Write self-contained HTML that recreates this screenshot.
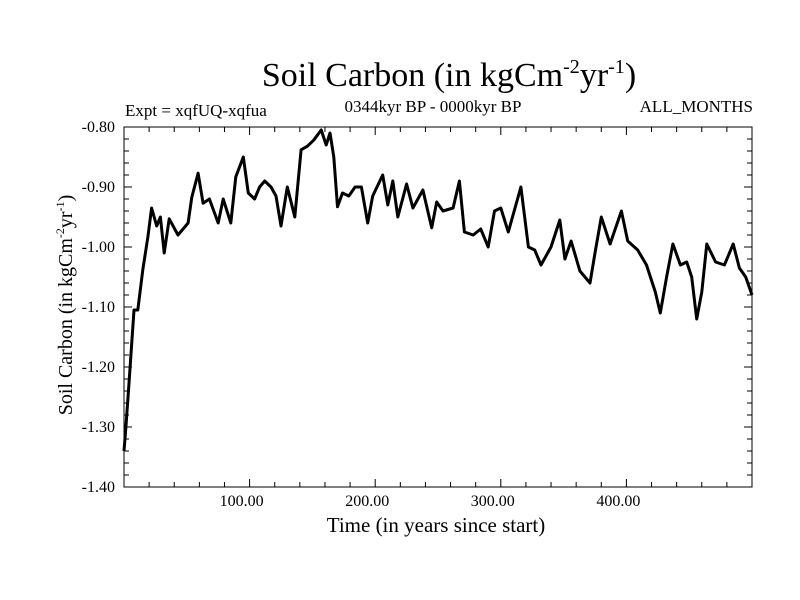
<!DOCTYPE html>
<html><head><meta charset="utf-8"><style>
body{margin:0;background:#fff}
svg{display:block;font-family:"Liberation Serif",serif}
</style></head><body>
<svg id="chart" width="800" height="600">
<text x="449" y="86" font-size="34" text-anchor="middle">Soil Carbon (in kgCm<tspan dy="-13" font-size="20">-2</tspan><tspan dy="13">yr</tspan><tspan dy="-13" font-size="20">-1</tspan><tspan dy="13">)</tspan></text>
<text x="125" y="116" font-size="17">Expt = xqfUQ-xqfua</text>
<text x="433" y="112" font-size="17" text-anchor="middle">0344kyr BP - 0000kyr BP</text>
<text x="753" y="112" font-size="17" text-anchor="end">ALL_MONTHS</text>
<text x="436" y="532" font-size="21" text-anchor="middle">Time (in years since start)</text>
<text transform="translate(72,305) rotate(-90)" font-size="20" text-anchor="middle">Soil Carbon (in kgCm<tspan dy="-8" font-size="12">-2</tspan><tspan dy="8">yr</tspan><tspan dy="-8" font-size="12">-1</tspan><tspan dy="8">)</tspan></text>
<g id="ticks"></g>
<path id="series" fill="none" stroke="#000" stroke-width="3" stroke-linejoin="round"/>
<rect x="124" y="127" width="628" height="360" fill="none" stroke="#000" stroke-width="1"/>
</svg>
<script>
const years=[0,1.5,4,8,11,15,19,22,26,29,32,36,43,51,54,59,63,68,75,79,85,89,95,99,104,108,112,117,121,125,130,136,141,146,151,157,161,164,167,170,174,179,184,189,194,198,206,210,214,218,225,230,238,245,249,254,262,267,271,278,284,290,295,300,306,316,322,327,332,340,347,351,356,363,371,375,380,387,396,401,409,416,423,427,432,437,443,448,452,456,460,464,471,478,485,490,495,500];
const carbon=[-1.34,-1.30,-1.227,-1.105,-1.105,-1.038,-0.983,-0.935,-0.965,-0.95,-1.01,-0.953,-0.98,-0.96,-0.917,-0.877,-0.927,-0.92,-0.96,-0.92,-0.96,-0.883,-0.85,-0.91,-0.92,-0.90,-0.89,-0.90,-0.915,-0.965,-0.90,-0.95,-0.838,-0.832,-0.822,-0.805,-0.83,-0.81,-0.85,-0.933,-0.91,-0.915,-0.90,-0.90,-0.96,-0.915,-0.88,-0.93,-0.89,-0.95,-0.895,-0.935,-0.905,-0.968,-0.925,-0.94,-0.935,-0.89,-0.975,-0.98,-0.97,-1.00,-0.94,-0.935,-0.975,-0.90,-1.00,-1.005,-1.03,-1.00,-0.955,-1.02,-0.99,-1.04,-1.06,-1.01,-0.95,-0.995,-0.94,-0.99,-1.005,-1.03,-1.075,-1.11,-1.05,-0.995,-1.03,-1.025,-1.05,-1.12,-1.075,-0.995,-1.025,-1.03,-0.995,-1.035,-1.05,-1.08];
const xTickVals=[100,200,300,400];
const xTickLabels=["100.00","200.00","300.00","400.00"];
const yTickVals=[-0.8,-0.9,-1.0,-1.1,-1.2,-1.3,-1.4];
const yTickLabels=["-0.80","-0.90","-1.00","-1.10","-1.20","-1.30","-1.40"];
const X0=124,X1=752,Y0=127,Y1=487,XMIN=0,XMAX=500,YMAX=-0.8,YMIN=-1.4;
const xs=v=>X0+(v-XMIN)/(XMAX-XMIN)*(X1-X0);
const ys=v=>Y0+(YMAX-v)/(YMAX-YMIN)*(Y1-Y0);
const NS="http://www.w3.org/2000/svg";
const g=document.getElementById('ticks');
function line(x1,y1,x2,y2,name){const l=document.createElementNS(NS,'line');l.setAttribute('x1',x1);l.setAttribute('y1',y1);l.setAttribute('x2',x2);l.setAttribute('y2',y2);l.setAttribute('stroke','#000');l.setAttribute('stroke-width','1');


g.appendChild(l);}
for(let v=20;v<XMAX;v+=20){const x=xs(v);const maj=v%100===0;const len=maj?8:5;line(x,Y1,x,Y1-len,'x-tick');line(x,Y0,x,Y0+len,'x-tick-top');}
for(let i=1;i<30;i++){const v=YMAX-i*0.02;const y=ys(v);const maj=i%5===0;const len=maj?8:5;line(X0,y,X0+len,y,'y-tick');line(X1,y,X1-len,y,'y-tick-right');}
xTickVals.forEach((v,i)=>{const t=document.createElementNS(NS,'text');t.setAttribute('x',xs(v)-8);t.setAttribute('y',506);t.setAttribute('font-size','16');t.setAttribute('text-anchor','middle');t.textContent=xTickLabels[i];


g.appendChild(t);});
yTickVals.forEach((v,i)=>{const t=document.createElementNS(NS,'text');t.setAttribute('x',115);t.setAttribute('y',ys(v)+5);t.setAttribute('font-size','16');t.setAttribute('text-anchor','end');t.textContent=yTickLabels[i];


g.appendChild(t);});
document.getElementById('series').setAttribute('d',years.map((t,i)=>(i?'L':'M')+xs(t).toFixed(1)+','+ys(carbon[i]).toFixed(1)).join(''));
</script>
</body></html>
